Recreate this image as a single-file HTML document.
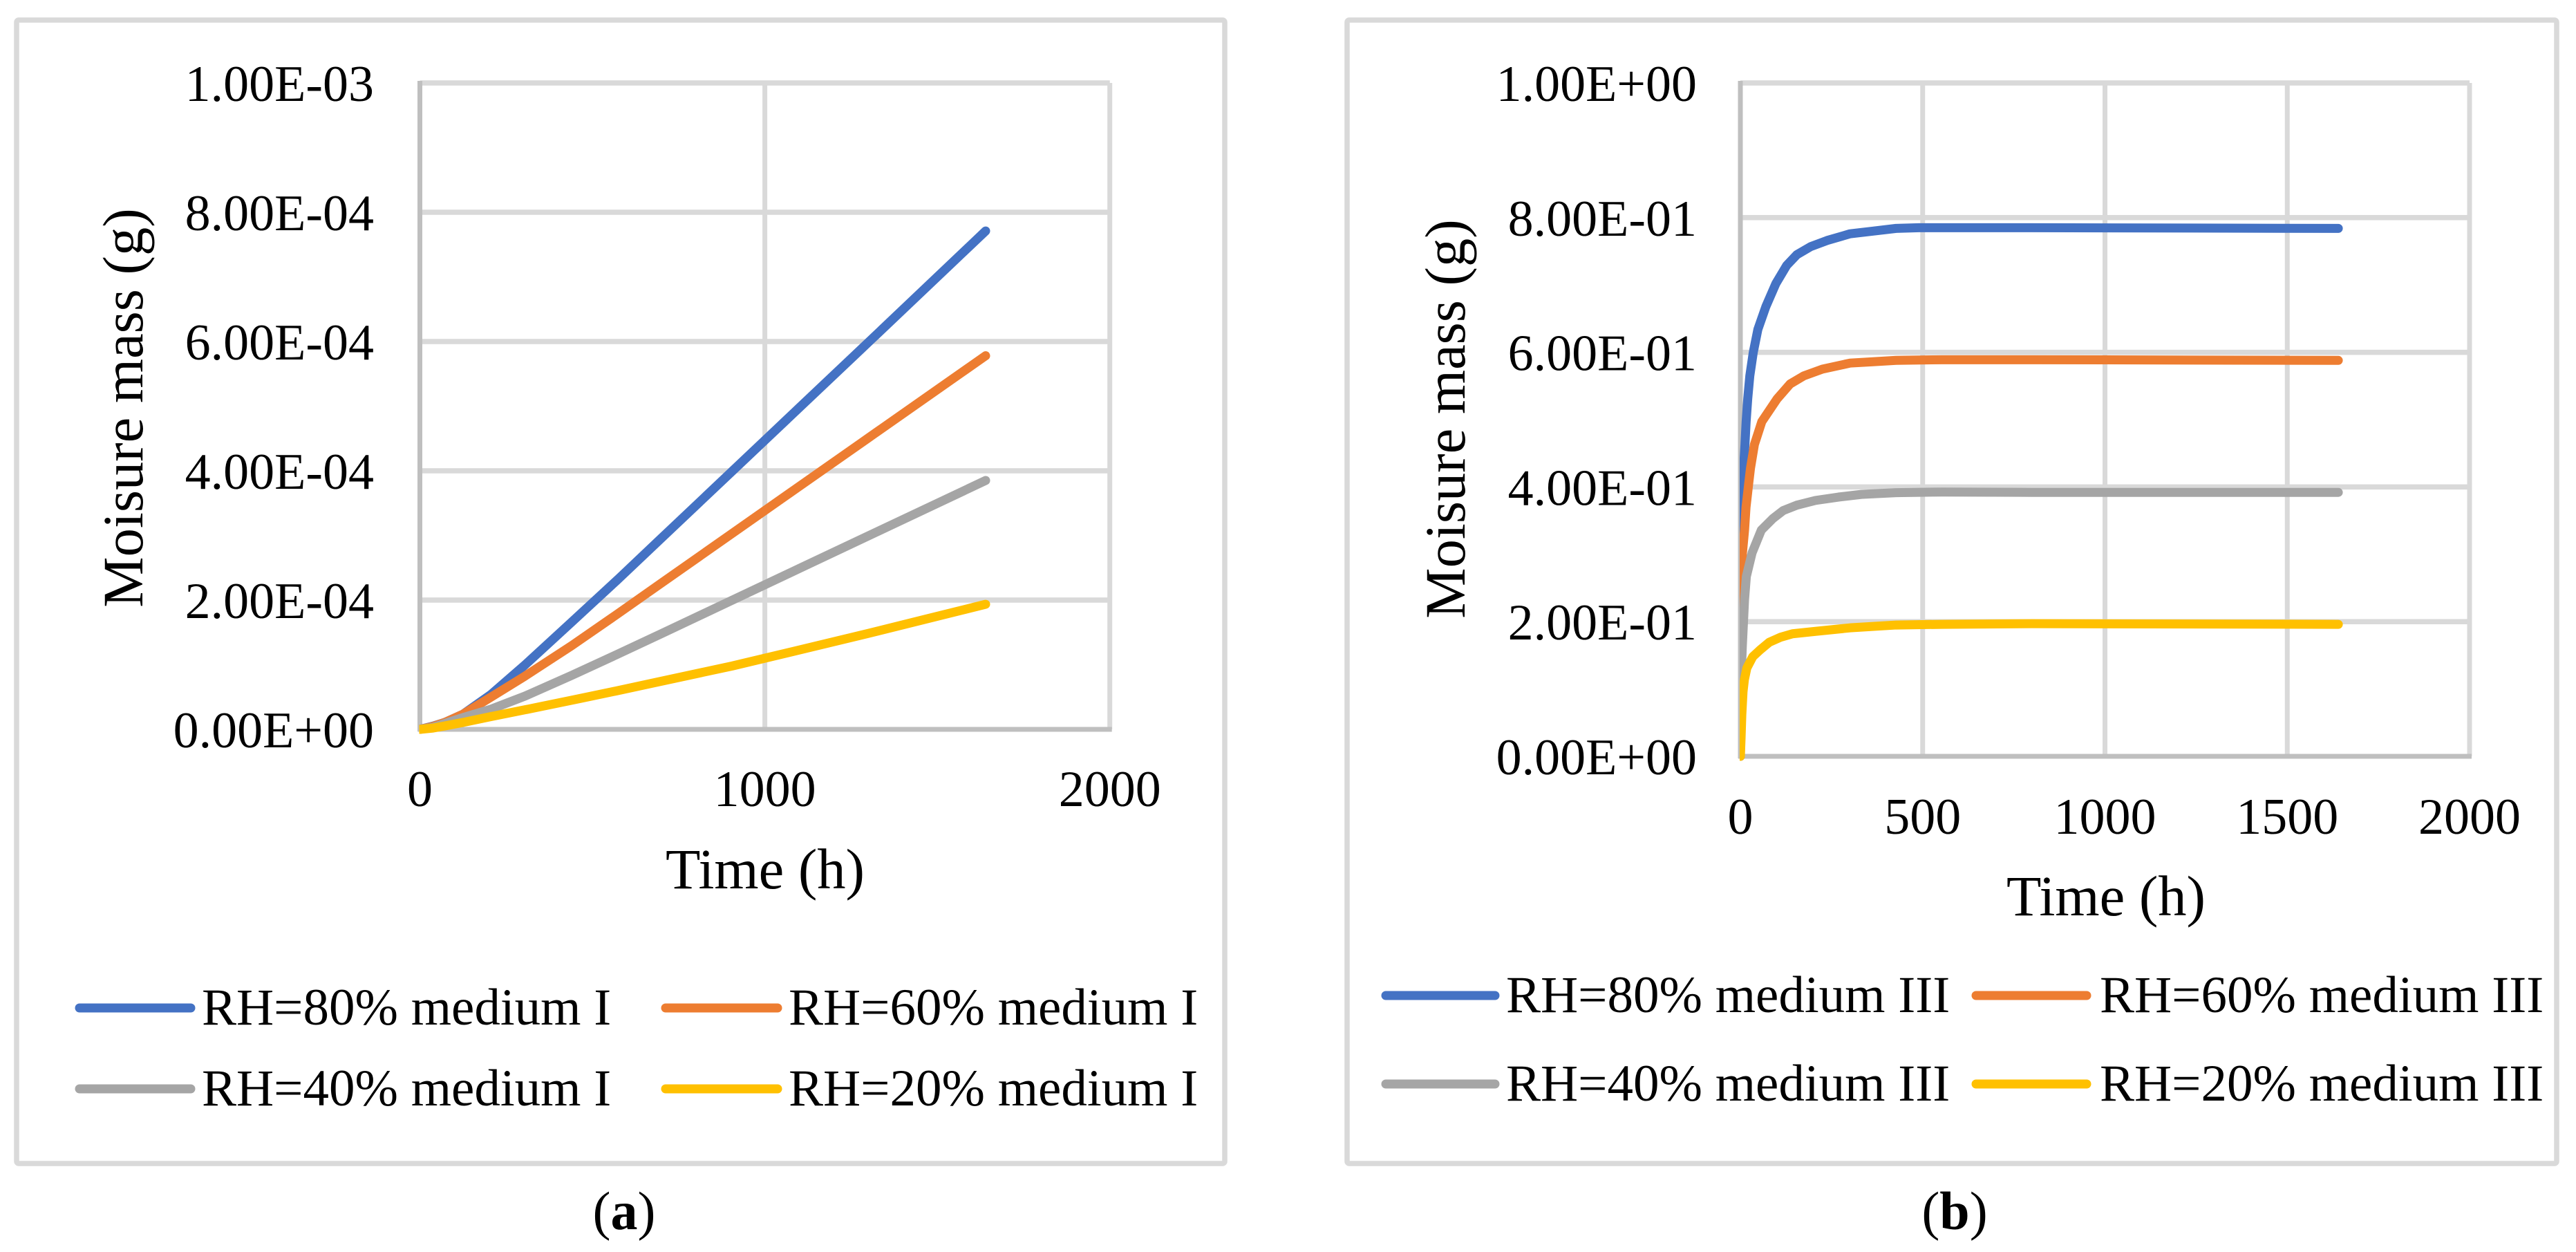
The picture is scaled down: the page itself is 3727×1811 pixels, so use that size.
<!DOCTYPE html>
<html lang="en">
<head>
<meta charset="utf-8">
<title>Moisture mass over time</title>
<style>
html,body{margin:0;padding:0;background:#fff;width:3727px;height:1811px;overflow:hidden}
svg{display:block}
text{font-family:"Liberation Serif","Times New Roman",serif;fill:#000}
.tick{font-size:74px}
.title{font-size:82.5px}
.leg{font-size:75px}
.cap{font-size:78px}
</style>
</head>
<body>
<svg id="figure" xmlns="http://www.w3.org/2000/svg" width="3727" height="1811" viewBox="0 0 3727 1811">
  <rect x="0" y="0" width="3727" height="1811" fill="#fff"/>

  <g id="panel-a">
    <rect x="24" y="29" width="1748" height="1654" rx="3" fill="#fff" stroke="#d9d9d9" stroke-width="7.5"/>
    <g id="plot-a"></g>
    <text class="title" x="1107" y="1285" text-anchor="middle">Time (h)</text>
    <text class="title" transform="translate(206 590) rotate(-90)" text-anchor="middle">Moisure mass (g)</text>
    <g>
      <line x1="115" y1="1458" x2="276" y2="1458" stroke="#4472c4" stroke-width="13" stroke-linecap="round"/>
      <text class="leg" x="292" y="1482">RH=80% medium I</text>
      <line x1="963" y1="1458" x2="1125" y2="1458" stroke="#ed7d31" stroke-width="13" stroke-linecap="round"/>
      <text class="leg" x="1141" y="1482">RH=60% medium I</text>
      <line x1="115" y1="1575" x2="276" y2="1575" stroke="#a5a5a5" stroke-width="13" stroke-linecap="round"/>
      <text class="leg" x="292" y="1599">RH=40% medium I</text>
      <line x1="963" y1="1575" x2="1125" y2="1575" stroke="#ffc000" stroke-width="13" stroke-linecap="round"/>
      <text class="leg" x="1141" y="1599">RH=20% medium I</text>
    </g>
  </g>

  <g id="panel-b">
    <rect x="1949" y="29" width="1750" height="1654" rx="3" fill="#fff" stroke="#d9d9d9" stroke-width="7.5"/>
    <g id="plot-b"></g>
    <text class="title" x="3047" y="1324" text-anchor="middle">Time (h)</text>
    <text class="title" transform="translate(2119 606) rotate(-90)" text-anchor="middle">Moisure mass (g)</text>
    <g>
      <line x1="2005" y1="1440" x2="2163" y2="1440" stroke="#4472c4" stroke-width="13" stroke-linecap="round"/>
      <text class="leg" x="2179" y="1464">RH=80% medium III</text>
      <line x1="2859" y1="1440" x2="3019" y2="1440" stroke="#ed7d31" stroke-width="13" stroke-linecap="round"/>
      <text class="leg" x="3038" y="1464">RH=60% medium III</text>
      <line x1="2005" y1="1568" x2="2163" y2="1568" stroke="#a5a5a5" stroke-width="13" stroke-linecap="round"/>
      <text class="leg" x="2179" y="1592">RH=40% medium III</text>
      <line x1="2859" y1="1568" x2="3019" y2="1568" stroke="#ffc000" stroke-width="13" stroke-linecap="round"/>
      <text class="leg" x="3038" y="1592">RH=20% medium III</text>
    </g>
  </g>

  <text class="cap" x="903" y="1778" text-anchor="middle">(<tspan font-weight="bold">a</tspan>)</text>
  <text class="cap" x="2828" y="1778" text-anchor="middle">(<tspan font-weight="bold">b</tspan>)</text>
</svg>

<script>
/* ---------- data: chart a (medium I) ---------- */
const timeA   = [0, 38, 72, 125, 205, 305, 440, 570, 700, 905, 1100, 1300, 1640];
const rh80A   = [0, 0.000005, 0.0000107, 0.0000235, 0.0000535, 0.0000998, 0.000166, 0.00023, 0.0002957, 0.0003992, 0.0004977, 0.0005987, 0.000771];
const rh60A   = [0, 0.0000045, 0.0000107, 0.0000235, 0.0000495, 0.0000825, 0.0001295, 0.0001775, 0.0002263, 0.000303, 0.000376, 0.0004508, 0.000578];
const rh40A   = [0, 0.000003, 0.0000091, 0.0000182, 0.000031, 0.0000515, 0.0000835, 0.0001155, 0.000148, 0.0001997, 0.0002489, 0.0002993, 0.000385];
const rh20A   = [0, 0.000002, 0.0000053, 0.0000107, 0.0000196, 0.0000303, 0.000045, 0.0000595, 0.0000745, 0.000098, 0.0001228, 0.0001485, 0.0001935];
const xTicksA = [0, 1000, 2000];
const yTicksA = [0, 0.0002, 0.0004, 0.0006, 0.0008, 0.001];
const yLabelsA = ["0.00E+00", "2.00E-04", "4.00E-04", "6.00E-04", "8.00E-04", "1.00E-03"];

/* ---------- data: chart b (medium III) ---------- */
const time80B = [0, 1, 2.5, 5, 8.8, 12.6, 15.8, 20.2, 25.9, 35.4, 48, 70, 97.3, 127, 155, 193, 237.6, 301, 364, 427, 490, 553, 800, 1640];
const rh80B   = [0, 0.2, 0.33, 0.394, 0.428, 0.463, 0.497, 0.531, 0.565, 0.600, 0.634, 0.668, 0.702, 0.729, 0.745, 0.757, 0.766, 0.776, 0.780, 0.784, 0.785, 0.785, 0.785, 0.784];
const time60B = [0, 1, 5.7, 11.5, 15.5, 22.7, 27.8, 38.5, 58.8, 101, 136.5, 174, 225, 301, 364, 427, 553, 800, 1640];
const rh60B   = [0, 0.2, 0.302, 0.336, 0.370, 0.4045, 0.428, 0.463, 0.497, 0.531, 0.553, 0.565, 0.575, 0.584, 0.586, 0.588, 0.589, 0.589, 0.588];
const time40B = [0, 1, 3, 5.4, 8.5, 11.5, 16.4, 32, 57.5, 89, 117.5, 155, 206, 269, 332, 427, 553, 800, 1640];
const rh40B   = [0, 0.08, 0.13, 0.164, 0.199, 0.233, 0.267, 0.302, 0.336, 0.353, 0.365, 0.373, 0.380, 0.385, 0.389, 0.3915, 0.3925, 0.392, 0.392];
const time20B = [0, 2, 4, 7.3, 11, 17.7, 34, 54, 79.6, 111, 143, 206, 301, 427, 553, 800, 1640];
const rh20B   = [0, 0.028, 0.062, 0.096, 0.1136, 0.131, 0.148, 0.158, 0.1695, 0.177, 0.182, 0.1856, 0.1908, 0.195, 0.196, 0.197, 0.196];
const xTicksB = [0, 500, 1000, 1500, 2000];
const yTicksB = [0, 0.2, 0.4, 0.6, 0.8, 1];
const yLabelsB = ["0.00E+00", "2.00E-01", "4.00E-01", "6.00E-01", "8.00E-01", "1.00E+00"];

const NS = "http://www.w3.org/2000/svg";

function make(tag, parent, props) {
  const el = document.createElementNS(NS, tag);
  for (const k in props) el.setAttribute(k, props[k]);
  parent.appendChild(el);
  return el;
}

function drawChart(panel, box, seriesList, xTicks, yTicks, yLabels, yLabelX, xLabelY) {
  const root = document.getElementById("plot-" + panel);
  const xMax = xTicks[xTicks.length - 1];
  const yMax = yTicks[yTicks.length - 1];
  const xScale = function (v) { return box.left + (v / xMax) * (box.right - box.left); };
  const yScale = function (v) { return box.bottom - (v / yMax) * (box.bottom - box.top); };

  yTicks.forEach(function (t, i) {
    if (i > 0) {
      const g = make("line", root, {x1: box.left, x2: box.right, y1: yScale(t), y2: yScale(t), stroke: "#d9d9d9", "stroke-width": 7.5});
      
      
    }
    const lab = make("text", root, {x: yLabelX, y: yScale(t) + 26, "text-anchor": "end", class: "tick"});
    lab.textContent = yLabels[i];
    
    
  });

  xTicks.forEach(function (t, i) {
    if (i > 0) {
      const g = make("line", root, {x1: xScale(t), x2: xScale(t), y1: box.top, y2: box.bottom, stroke: "#d9d9d9", "stroke-width": 7});
      
      
    }
    const lab = make("text", root, {x: xScale(t), y: xLabelY, "text-anchor": "middle", class: "tick"});
    lab.textContent = String(t);
    
    
  });

  const yAxis = make("line", root, {x1: box.left, x2: box.left, y1: box.top - 3, y2: box.bottom + 3, stroke: "#bfbfbf", "stroke-width": 7});
  
  
  const xAxis = make("line", root, {x1: box.left - 3, x2: box.right + 3, y1: box.bottom, y2: box.bottom, stroke: "#bfbfbf", "stroke-width": 7});
  
  

  const clip = make("clipPath", root, {id: "clip-" + panel});
  make("rect", clip, {x: box.left - 1, y: 0, width: box.right - box.left + 40, height: box.bottom + 40});

  const seriesGroup = make("g", root, {"clip-path": "url(#clip-" + panel + ")"});
  
  

  seriesList.forEach(function (s) {
    const pts = s.values.map(function (v, i) { return xScale(s.times[i]) + "," + yScale(v); }).join(" ");
    const line = make("polyline", seriesGroup, {points: pts, fill: "none", stroke: s.color, "stroke-width": 13, "stroke-linejoin": "round", "stroke-linecap": "round"});
    
    
  });
}

drawChart("a", {left: 607.5, right: 1605.7, top: 120, bottom: 1055}, [
  {name: "series-rh80-medium-i", color: "#4472c4", times: timeA, values: rh80A},
  {name: "series-rh60-medium-i", color: "#ed7d31", times: timeA, values: rh60A},
  {name: "series-rh40-medium-i", color: "#a5a5a5", times: timeA, values: rh40A},
  {name: "series-rh20-medium-i", color: "#ffc000", times: timeA, values: rh20A}
], xTicksA, yTicksA, yLabelsA, 541, 1166);

drawChart("b", {left: 2518, right: 3573, top: 120, bottom: 1094}, [
  {name: "series-rh80-medium-iii", color: "#4472c4", times: time80B, values: rh80B},
  {name: "series-rh60-medium-iii", color: "#ed7d31", times: time60B, values: rh60B},
  {name: "series-rh40-medium-iii", color: "#a5a5a5", times: time40B, values: rh40B},
  {name: "series-rh20-medium-iii", color: "#ffc000", times: time20B, values: rh20B}
], xTicksB, yTicksB, yLabelsB, 2455, 1206);
</script>
</body>
</html>
